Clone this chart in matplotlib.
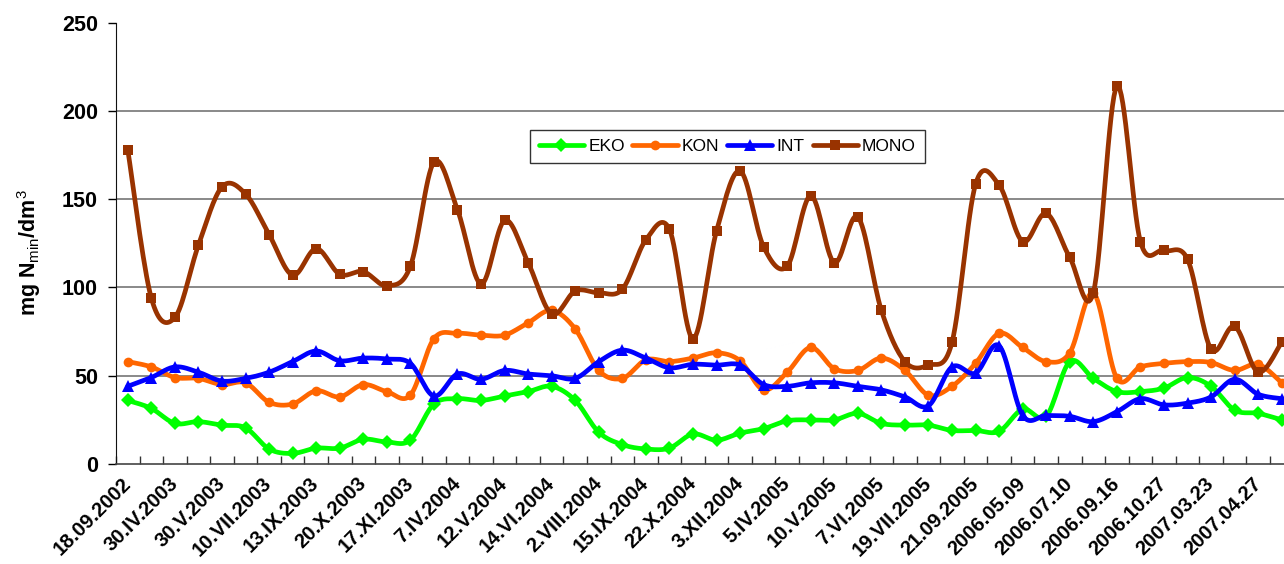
import numpy as np
import matplotlib
matplotlib.use("Agg")
import matplotlib.pyplot as plt
from matplotlib.ticker import FixedLocator, FixedFormatter, NullFormatter

plt.rcParams["font.family"] = ["Liberation Sans", "DejaVu Sans"]
plt.rcParams["mathtext.fontset"] = "custom"
plt.rcParams["mathtext.rm"] = "Liberation Sans"

# sampling dates (only every second one is labelled on the axis)
date_labels = ["18.09.2002", "30.IV.2003", "30.V.2003", "10.VII.2003", "13.IX.2003",
               "20.X.2003", "17.XI.2003", "7.IV.2004", "12.V.2004", "14.VI.2004",
               "2.VIII.2004", "15.IX.2004", "22.X.2004", "3.XII.2004", "5.IV.2005",
               "10.V.2005", "7.VI.2005", "19.VII.2005", "21.09.2005", "2006.05.09",
               "2006.07.10", "2006.09.16", "2006.10.27", "2007.03.23", "2007.04.27"]
n_samples = 50

eko = [36, 31.5, 23, 24, 22, 20.5, 8.5, 6, 9, 9,
       14, 12.5, 13.5, 34, 37, 36, 38.5, 41, 44, 36,
       18, 11, 8.5, 9, 17, 13.5, 17.5, 20, 24.5, 25,
       25, 28.7, 23, 22, 22, 19, 19, 18.5, 31, 27,
       58, 48.5, 41, 41, 43, 49, 44, 30.5, 28.7, 25]
kon = [58, 55, 49, 48.5, 45, 46, 35, 34, 41.5, 38,
       45, 41, 39, 71, 74, 73, 73, 80, 87, 76.5,
       53, 48.5, 59, 58, 60, 63, 58.5, 42, 52, 66,
       54, 53, 60, 53, 39, 44, 57, 74, 66, 58,
       63, 97, 48.5, 55, 57, 58, 57.5, 53, 56.5, 46]
int_ = [44, 49, 55, 52, 47, 48.5, 52, 58, 64, 58.5,
        60, 59.5, 57, 38.5, 51, 48, 53, 51, 50, 48.5,
        58, 64.5, 60, 54.5, 56.5, 56, 56, 45, 44, 46,
        46, 44, 42, 38, 33, 55, 51.5, 67, 27.5, 27.5,
        27, 24, 29.6, 37, 33.5, 34.5, 38, 48, 39.5, 37]
mono = [178, 94, 83, 124, 157, 153, 130, 107, 122, 107.5,
        109, 101, 112, 171, 144, 102, 138, 114, 85, 98,
        97, 99, 127, 133, 71, 132, 166, 123, 112, 152,
        114, 140, 87, 58, 56, 69, 158.5, 158, 126, 142,
        117, 97, 214, 126, 121, 116, 65, 78, 52, 69]

series = [
    ("EKO", eko, "#00ff00", "D", 7.4),
    ("KON", kon, "#ff6600", "o", 7.0),
    ("INT", int_, "#0000ff", "^", 8.4),
    ("MONO", mono, "#993300", "s", 6.8),
]

STEPS = 16


def smooth(values, steps=STEPS):
    # cubic Bezier between neighbouring points, tangents taken from the
    # surrounding points (the usual "smoothed line" look)
    y = np.asarray(values, dtype=float)
    x = np.arange(len(y), dtype=float)
    px = np.concatenate([[x[0]], x, [x[-1]]])
    py = np.concatenate([[y[0]], y, [y[-1]]])
    t = np.linspace(0, 1, steps, endpoint=False)
    xs, ys = [], []
    for i in range(len(y) - 1):
        x0, x1, x2, x3 = px[i], px[i + 1], px[i + 2], px[i + 3]
        y0, y1, y2, y3 = py[i], py[i + 1], py[i + 2], py[i + 3]
        cx1, cy1 = x1 + (x2 - x0) / 6, y1 + (y2 - y0) / 6
        cx2, cy2 = x2 - (x3 - x1) / 6, y2 - (y3 - y1) / 6
        a, b, c, d = (1 - t) ** 3, 3 * (1 - t) ** 2 * t, 3 * (1 - t) * t ** 2, t ** 3
        xs.append(a * x1 + b * cx1 + c * cx2 + d * x2)
        ys.append(a * y1 + b * cy1 + c * cy2 + d * y2)
    xs.append([x[-1]])
    ys.append([y[-1]])
    return np.concatenate(xs), np.concatenate(ys)


W, H = 1284, 564
fig = plt.figure(figsize=(W / 100, H / 100), dpi=100)
step_px = 23.55
left_px, bottom_px, top_px = 116, 464, 22.7
ax = fig.add_axes([left_px / W, (H - bottom_px) / H,
                   n_samples * step_px / W, (bottom_px - top_px) / H])

for name, vals, color, marker, ms in series:
    sx, sy = smooth(vals)
    ax.plot(sx, sy, color=color, lw=3.4, marker=marker, markersize=ms,
            markevery=STEPS, markeredgewidth=0, label=name,
            solid_capstyle="round", solid_joinstyle="round", clip_on=False)

ax.set_xlim(-0.5, n_samples - 0.5)
ax.set_ylim(0, 250)
ax.set_yticks([0, 50, 100, 150, 200, 250])
for v in [50, 100, 150, 200]:
    ax.axhline(v, color="#6a6a6a", lw=1.1, zorder=0)

# tick marks sit between categories, labels on every second category
ax.xaxis.set_major_locator(FixedLocator(np.arange(n_samples + 1) - 0.5))
ax.xaxis.set_major_formatter(NullFormatter())
ax.xaxis.set_minor_locator(FixedLocator(np.arange(0, n_samples, 2)))
ax.xaxis.set_minor_formatter(FixedFormatter(date_labels))
ax.tick_params(axis="x", which="major", direction="in", length=6, width=1, color="#333333")
ax.tick_params(axis="x", which="minor", length=0, pad=12)
for lab in ax.xaxis.get_minorticklabels():
    lab.set_rotation(45)
    lab.set_rotation_mode("anchor")
    lab.set_ha("right")
    lab.set_va("center")
    lab.set_fontsize(14.5)
    lab.set_fontweight("bold")

ax.tick_params(axis="y", direction="out", length=6, width=1, labelsize=15.5, pad=7)
for lab in ax.get_yticklabels():
    lab.set_fontweight("bold")

for side in ["top", "right"]:
    ax.spines[side].set_visible(False)
ax.spines["left"].set_color("#111111")
ax.spines["bottom"].set_color("#444444")
ax.spines["bottom"].set_linewidth(1.2)

ax.set_ylabel(r"mg N$_{\mathrm{min}}$/dm$^{\mathrm{3}}$", fontsize=15.5, fontweight="bold")
ax.yaxis.set_label_coords(-0.062, 0.48)

leg = ax.legend(loc="upper left", bbox_to_anchor=((530 - left_px) / (n_samples * step_px),
                                                  (bottom_px - 130) / (bottom_px - top_px)),
                ncol=4, fontsize=12.5, frameon=True, fancybox=False, shadow=False,
                handlelength=2.6, handletextpad=0.25, columnspacing=0.45,
                borderpad=0.5, borderaxespad=0)
leg.get_frame().set_edgecolor("black")
leg.get_frame().set_linewidth(1.0)

fig.savefig("out.png", dpi=100)
